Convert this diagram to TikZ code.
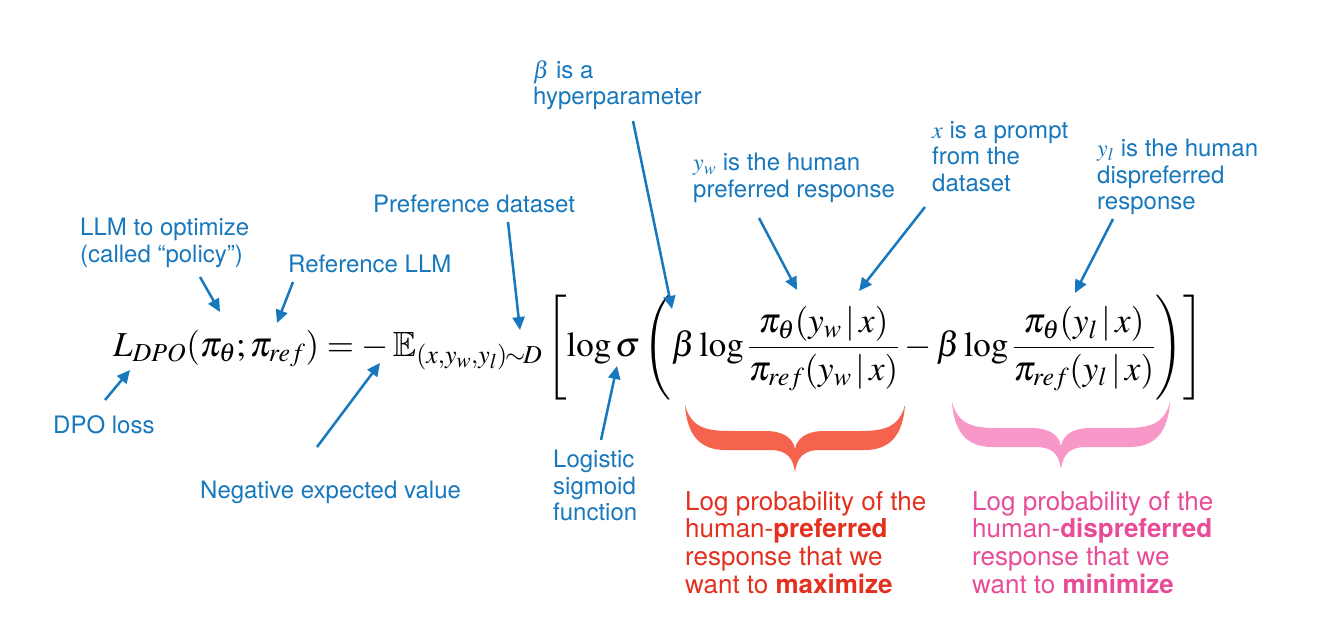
\documentclass[tikz,border=0pt]{standalone}
\usepackage{mathptmx}
\usepackage{amssymb}
\usepackage[no-math]{fontspec}
\setmainfont{TeX Gyre Heros}
\usetikzlibrary{arrows.meta}
\definecolor{lblue}{RGB}{24,120,190}
\definecolor{bred}{RGB}{245,99,78}
\definecolor{tred}{RGB}{228,48,30}
\definecolor{bpink}{RGB}{247,152,200}
\definecolor{tpink}{RGB}{232,76,152}
\tikzset{
  lbl/.style={text=lblue, font=\fontsize{24}{26.5}\selectfont, align=left, inner sep=0pt, anchor=north west},
  rtxt/.style={text=tred, font=\fontsize{26}{27.7}\selectfont, align=left, inner sep=0pt, anchor=north west},
  ptxt/.style={text=tpink, font=\fontsize{26}{27.7}\selectfont, align=left, inner sep=0pt, anchor=north west},
  fml/.style={inner sep=0pt, font=\fontsize{35}{40}\selectfont},
  arr/.style={draw=lblue, line width=2.5pt, -{Triangle[length=13pt,width=12pt]}},
}
\begin{document}
\begin{tikzpicture}[x=1pt,y=-1pt]
\useasboundingbox[fill=white] (0,0) rectangle (1325,635);
% formula
\node[fml, anchor=base west] (F) at (113,356) {$\displaystyle L_{DPO}(\pi_\theta;\pi_{ref}) = -\,\mathbb{E}_{(x,y_w,y_l)\mkern-1.5mu\sim\mkern-1.5mu D}\left[\log\sigma\left(\beta\log\frac{\pi_\theta(y_w\,|\,x)}{\pi_{ref}(y_w\,|\,x)} - \beta\log\frac{\pi_\theta(y_l\,|\,x)}{\pi_{ref}(y_l\,|\,x)}\vrule height 61pt depth 42pt width 0pt\right)\right]$};
% labels
\node[lbl] (dpo) at (53,415) {DPO loss};
\node[lbl] (llm) at (80,218) {LLM to optimize\\(called “policy”)};
\node[lbl] (refl) at (288,255) {Reference LLM};
\node[lbl] (pref) at (373,195) {Preference dataset};
\node[lbl] (beta) at (533,60) {$\beta$ is a\\hyperparameter};
\node[lbl] (yw) at (693,153) {$y_w$ is the human\\preferred response};
\node[lbl] (xp) at (932,121) {$x$ is a prompt\\from the\\dataset};
\node[lbl] (yl) at (1097,139) {$y_l$ is the human\\dispreferred\\response};
\node[lbl] (neg) at (200,481) {Negative expected value};
\node[lbl] (logi) at (553,450) {Logistic\\sigmoid\\function};
\node[rtxt] (rt) at (685,491) {Log probability of the\\human-\textbf{preferred}\\response that we\\want to \textbf{maximize}};
\node[ptxt] (pt) at (972,491) {Log probability of the\\human-\textbf{dispreferred}\\response that we\\want to \textbf{minimize}};
% arrow coordinates
\coordinate (s1) at (105,400); \coordinate (e1) at (130,370);
\coordinate (s2) at (200,277); \coordinate (e2) at (220,312);
\coordinate (s3) at (293,282); \coordinate (e3) at (277,323);
\coordinate (s4) at (508,222); \coordinate (e4) at (520,330);
\coordinate (s5) at (633,121); \coordinate (e5) at (672,309);
\coordinate (s6) at (759,218); \coordinate (e6) at (797,290);
\coordinate (s7) at (925,207); \coordinate (e7) at (859,291);
\coordinate (s8) at (1113,219); \coordinate (e8) at (1075,293);
\coordinate (s9) at (601,440); \coordinate (e9) at (617,366);
\coordinate (s10) at (317,447); \coordinate (e10) at (380,363);
\foreach \i in {1,...,10} {\draw[arr] (s\i) -- (e\i);}
% braces
\fill[bred] (685,405) .. controls (691,427) and (705,431) .. (730,431) -- (765,431) .. controls (785,431) and (793,439) .. (795,449)
  .. controls (797,439) and (805,431) .. (825,431) -- (860,431) .. controls (885,431) and (899,427) .. (905,405)
  .. controls (903,435) and (890,450) .. (865,450) -- (820,450) .. controls (803,450) and (797,458) .. (795,472)
  .. controls (793,458) and (787,450) .. (770,450) -- (725,450) .. controls (700,450) and (687,435) .. (685,405) -- cycle;
\fill[bpink] (952,402) .. controls (958,424) and (972,428) .. (997,428) -- (1031,428) .. controls (1051,428) and (1059,436) .. (1061,446)
  .. controls (1063,436) and (1071,428) .. (1091,428) -- (1125,428) .. controls (1150,428) and (1164,424) .. (1170,402)
  .. controls (1168,432) and (1155,447) .. (1130,447) -- (1086,447) .. controls (1069,447) and (1063,455) .. (1061,469)
  .. controls (1059,455) and (1053,447) .. (1036,447) -- (992,447) .. controls (967,447) and (954,432) .. (952,402) -- cycle;
\end{tikzpicture}
\end{document}
